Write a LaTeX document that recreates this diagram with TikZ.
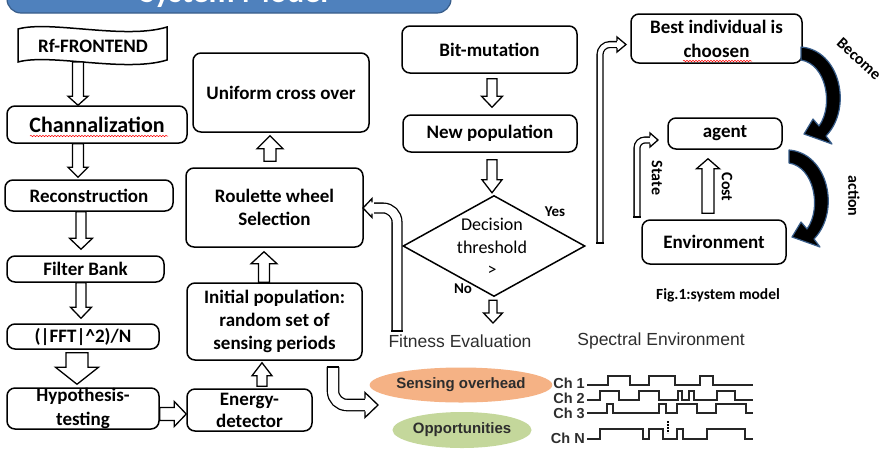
\documentclass[tikz,border=0pt]{standalone}
\usepackage{fontspec}
\setmainfont{Carlito}
\newfontfamily\arialf{Liberation Sans}
\usetikzlibrary{shapes.geometric,calc,decorations.pathmorphing}

\definecolor{bannerblue}{RGB}{79,129,189}
\definecolor{bannerdark}{RGB}{56,93,138}
\definecolor{ovlorange}{RGB}{245,178,133}
\definecolor{ovlgreen}{RGB}{196,215,155}
\definecolor{txtgray}{RGB}{45,45,45}

\newcommand{\vblk}[6]{\draw[blk] let \p1=#2, \p2=#3 in ({#1-#4},\y1) -- ({#1-#4},{\y2+(#6)}) -- ({#1-#5},{\y2+(#6)}) -- (#1,\y2) -- ({#1+#5},{\y2+(#6)}) -- ({#1+#4},{\y2+(#6)}) -- ({#1+#4},\y1) -- cycle;}
\newcommand{\hblk}[6]{\draw[blk] let \p1=#2, \p2=#3 in (\x1,{#1-#4}) -- ({\x2-(#6)},{#1-#4}) -- ({\x2-(#6)},{#1-#5}) -- (\x2,#1) -- ({\x2-(#6)},{#1+#5}) -- ({\x2-(#6)},{#1+#4}) -- (\x1,{#1+#4}) -- cycle;}
\newcommand{\hhead}[5]{\fill[white] (#3,{#2-#4}) -- (#1,#2) -- (#3,{#2+#4}) -- cycle;
 \draw[line width=1.3pt, line join=miter] (#3,{#2-#5}) -- (#3,{#2-#4}) -- (#1,#2) -- (#3,{#2+#4}) -- (#3,{#2+#5});}

\tikzset{
 box/.style={draw, line width=1.5pt, rounded corners=8pt, inner sep=0pt, align=center, font=\bfseries\fontsize{19}{23}\selectfont},
 blk/.style={draw, line width=1.3pt, fill=white, line join=miter},
 hol/.style={draw, line width=1.3pt, double=white, line cap=butt},
 lbl/.style={font=\bfseries\fontsize{16}{19}\selectfont, inner sep=0pt},
 wave/.style={line width=1.7pt, draw=black!85, line join=miter},
 chl/.style={font=\arialf\bfseries\fontsize{14.5}{15}\selectfont, text=txtgray, inner sep=0pt, anchor=east},
 squig/.style={draw=red, line width=0.5pt, decorate, decoration={snake, amplitude=0.7pt, segment length=3pt}},
 curv/.style={fill=black, draw=bannerdark, line width=1.2pt, line join=round},
}

\begin{document}
\begin{tikzpicture}[x=1pt,y=-1pt]
\useasboundingbox (0,0) rectangle (882,456);
\clip (0,0) rectangle (882,456);

% banner
\draw[draw=bannerdark, fill=bannerblue, line width=1.2pt, rounded corners=14pt] (7,-40) rectangle (451,13);
\node[text=white, font=\bfseries\fontsize{32}{36}\selectfont, anchor=base, inner sep=0pt] (title) at (234,2) {System Model};

% left column
\draw[line width=1.5pt, fill=white] (18,29) .. controls (50,20) and (125,40) .. (167,27) -- (167,60) .. controls (125,73) and (50,53) .. (18,62) -- cycle;
\node[font=\bfseries\fontsize{19}{22}\selectfont, inner sep=0pt] (rf) at (93,46) {Rf-FRONTEND};
\coordinate (rfb) at (78,62);
\node[box, minimum width=180pt, minimum height=37pt, font=\bfseries\fontsize{22}{24}\selectfont] (chan) at (97,124.5) {Channalization};
\node[box, minimum width=168pt, minimum height=31pt] (recon) at (89,195.5) {Reconstruction};
\node[box, minimum width=157pt, minimum height=26pt] (filt) at (85.5,269) {Filter Bank};
\node[box, minimum width=152pt, minimum height=25pt] (fft) at (83,336.5) {(|FFT|\textasciicircum 2)/N};
\node[box, minimum width=152pt, minimum height=41pt, font=\bfseries\fontsize{19}{24}\selectfont] (hyp) at (83,408.5) {Hypothesis-\\testing};

% middle column
\node[box, minimum width=125pt, minimum height=42pt, font=\bfseries\fontsize{19}{22}\selectfont] (energy) at (249.5,410) {Energy-\\detector};
\node[box, minimum width=175pt, minimum height=77pt] (init) at (274.5,321.5) {Initial population:\\random set of\\sensing periods};
\node[box, minimum width=177pt, minimum height=79pt] (roul) at (274.5,207.5) {Roulette wheel\\Selection};
\node[box, minimum width=176pt, minimum height=79pt] (unif) at (281,92.5) {Uniform cross over};

% GA column
\node[box, minimum width=175pt, minimum height=47pt] (bit) at (489.5,49.5) {Bit-mutation};
\node[box, minimum width=174pt, minimum height=37pt] (newp) at (490,133.5) {New population};
\node[diamond, draw, line width=1.5pt, minimum width=182pt, minimum height=101pt, inner sep=0pt] (dec) at (494,246) {};
\node[align=center, font=\fontsize{18}{22.5}\selectfont, inner sep=0pt] (dectxt) at (492,247) {Decision\\threshold\\>};
\node[font=\bfseries\fontsize{15}{18}\selectfont, inner sep=0pt] (yes) at (555,212) {Yes};
\node[font=\bfseries\fontsize{15}{18}\selectfont, inner sep=0pt] (no) at (463,289) {No};
\coordinate (decout) at (493,323);

% right part
\node[box, minimum width=171pt, minimum height=49pt, font=\bfseries\fontsize{19}{24}\selectfont] (best) at (716.5,38.5) {Best individual is\\choosen};
\node[box, minimum width=114pt, minimum height=31pt] (agent) at (725,133.5) {agent};
\node[box, minimum width=144pt, minimum height=44pt] (env) at (714,242) {Environment};
\node[lbl, rotate=-42] (become) at (859,59) {Become};
\node[lbl, rotate=-90] (action) at (854,196) {action};
\node[lbl, rotate=-90] (cost) at (727,187) {Cost};
\node[lbl, rotate=-90] (state) at (657,178) {State};
\node[font=\bfseries\fontsize{15.5}{18}\selectfont, inner sep=0pt] (fig) at (718,295) {Fig.1:system model};

% red spelling squiggles
\draw[squig] (30,136) -- (168,136);
\draw[squig] (683,61) -- (752,61);

% straight block arrows
\vblk{78}{(rfb)}{(chan.north)}{5.5}{10}{9}
\vblk{78}{(chan.south)}{([yshift=2pt]recon.north)}{5.5}{10}{10}
\vblk{81}{(recon.south)}{([yshift=6pt]filt.north)}{5}{11.5}{11}
\vblk{81}{(filt.south)}{([yshift=5pt]fft.north)}{5}{10.5}{11}
\vblk{77}{([yshift=-3pt]fft.south)}{([yshift=3pt]hyp.north)}{11}{21.5}{17}
\hblk{414}{(hyp.east)}{(energy.west)}{6.5}{12.5}{12}
\vblk{262}{([yshift=2pt]energy.north)}{([yshift=-2pt]init.south)}{5}{10}{-13}
\vblk{264}{(init.north)}{([yshift=-4pt]roul.south)}{5.5}{13}{-12}
\vblk{270}{([yshift=6pt]roul.north)}{([yshift=-3pt]unif.south)}{6}{13}{-13}
\vblk{492}{([yshift=-5pt]bit.south)}{([yshift=7pt]newp.north)}{5}{10.5}{11}
\vblk{492}{([yshift=-7pt]newp.south)}{([yshift=2pt]dec.north)}{5}{10}{13}
\vblk{493}{([yshift=-3pt]dec.south)}{(decout)}{4}{9.5}{10}
\vblk{708}{([yshift=6pt]env.north)}{([yshift=-9pt]agent.south)}{6}{11.5}{-10}

% bent hollow arrows
\coordinate (yesS) at (600,243);
\draw[hol, double distance=4.5pt, rounded corners=10pt] (yesS) -- (600,44.5) -- (619,44.5);
\draw[line width=1.3pt] (596.3,243) -- (603.7,243);
\hhead{626}{44.5}{617}{7.5}{3.6}

\coordinate (stS) at (637,217);
\draw[hol, double distance=4.5pt, rounded corners=8pt] (stS) -- (637,140) -- (652,140);
\draw[line width=1.3pt] (633.3,217) -- (640.7,217);
\hhead{658}{140}{650}{7}{3.6}

\coordinate (fbS) at (397,331);
\draw[hol, double distance=8.5pt, rounded corners=14pt] (fbS) -- (397,208) -- (374,208);
\draw[line width=1.3pt] (391.4,331) -- (402.6,331);
\hhead{363}{208}{372}{9.5}{5.6}

\coordinate (inS) at (333,367);
\draw[hol, double distance=10pt, rounded corners=14pt] (inS) -- (333,405) -- (367,405);
\draw[line width=1.3pt] (326.7,367) -- (339.3,367);
\hhead{378}{405}{365}{12.5}{6.3}

% curved black arrows
\draw[curv] (801,47) .. controls (840,50) and (853,108) .. (826,136) -- (832,144) -- (804,134) -- (813,119) -- (819,126) .. controls (834,105) and (826,64) .. (801,60) -- cycle;
\begin{scope}[shift={(-12,103)}]
\draw[curv] (801,47) .. controls (840,50) and (853,108) .. (826,136) -- (832,144) -- (804,134) -- (813,119) -- (819,126) .. controls (834,105) and (826,64) .. (801,60) -- cycle;
\end{scope}

% fitness evaluation
\node[font=\arialf\fontsize{17.5}{19}\selectfont, text=txtgray, inner sep=0pt] (fit) at (460,341) {Fitness Evaluation};
\node[font=\arialf\fontsize{17.5}{19}\selectfont, text=txtgray, inner sep=0pt] (spec) at (661,341) {Spectral Environment};
\node[ellipse, fill=ovlorange, minimum width=147pt, minimum height=35pt, inner sep=0pt, font=\arialf\bfseries\fontsize{15}{17}\selectfont, text=txtgray] (sens) at (461,385) {Sensing overhead};
\node[ellipse, fill=ovlgreen, minimum width=138pt, minimum height=36pt, inner sep=0pt, font=\arialf\bfseries\fontsize{15}{17}\selectfont, text=txtgray] (opp) at (462,430) {Opportunities};

% channels
\node[chl] (c1) at (585,383) {Ch 1};
\node[chl] (c2) at (585,398) {Ch 2};
\node[chl] (c3) at (585,413) {Ch 3};
\node[chl] (cn) at (585,438) {Ch N};
\draw[wave] (587,385) -| (608,376) -| (630,385) -| (649,376) -| (675,385) -| (700,376) -| (713,385) -- (753,385);
\draw[wave] (587,400) -| (600,391) -| (619,400) -| (639,391) -| (659,400) -| (678,391) -| (682,400) -| (689,391) -| (694,400) -| (717,391) -| (735,400) -- (753,400);
\draw[wave] (587,413) -| (607,404) -| (613,413) -| (659,404) -| (666,413) -| (677,404) -| (697,413) -| (716,404) -| (746,413) -- (753,413);
\draw[wave] (587,439) -| (600,429) -| (643,439) -| (649,429) -| (663,439) -| (677,429) -| (683,439) -| (707,429) -| (745,439) -- (753,439);
\draw[line width=2.5pt, dash pattern=on 2pt off 1pt] (668,421) -- (668,433);
\end{tikzpicture}
\end{document}
